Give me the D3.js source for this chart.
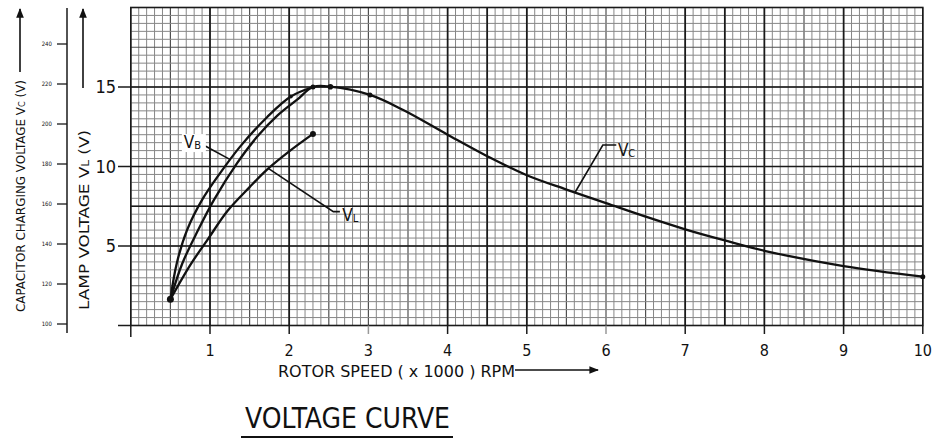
<!DOCTYPE html>
<html><head><meta charset="utf-8">
<script src="https://cdn.jsdelivr.net/npm/d3@7"></script>
<style>
html,body{margin:0;padding:0;background:#fff;}
svg{display:block;}
text{font-family:"Liberation Sans Narrow","DejaVu Sans Condensed","Liberation Sans",sans-serif;fill:#111;}
</style></head>
<body>
<svg id="c" width="939" height="441"></svg>
<script>
// ---- data ----
const rpmTicks = [1,2,3,4,5,6,7,8,9,10];
const lampTicks = [5,10,15];
const capTicks = [100,120,140,160,180,200,220,240];
// heavy graph-paper lines as they appear on the scan
const heavyX = [1,2,4,4.5,5,7,7.5,8,9];
const heavyY = [5,7.5,10,15];
// curves: [rotor speed (x1000 rpm), lamp-scale voltage]
const vbCurve = [[0.5,1.65],[0.58,3.9],[0.71,6.0],[0.9,7.9],[1.13,9.6],[1.38,11.25],[1.72,13.1],[2.02,14.4],[2.3,15.0]];
const vcCurve = [[0.5,1.65],[0.65,3.9],[0.85,6.0],[1.05,7.9],[1.34,10.2],[1.6,11.9],[1.85,13.2],[2.1,14.2],[2.3,15.0],[2.52,15.02],[3.02,14.5],[3.44,13.55],[4.0,12.0],[4.5,10.65],[5.0,9.45],[5.5,8.55],[6.0,7.7],[6.5,6.85],[7.0,6.05],[7.5,5.35],[8.0,4.7],[9.0,3.74],[10.0,3.07]];
const vlCurve = [[0.5,1.65],[0.75,3.8],[0.97,5.4],[1.22,7.2],[1.5,8.7],[1.72,9.8],[2.0,10.95],[2.3,12.05]];
const dots = [[0.5,1.65,3.5],[2.02,14.4,2],[2.3,15.0,2.5],[2.52,15.02,2.8],[3.02,14.5,2.5],[2.3,12.05,3],[10.0,3.07,2.5]];
const labels = [
  {main:"V", sub:"B", x:0.67, y:11.16, leader:[[0.94,11.29],[1.25,10.45]], box:true},
  {main:"V", sub:"L", x:2.67, y:6.57, leader:[[2.64,7.16],[2.557,7.16],[1.736,9.88]], box:false},
  {main:"V", sub:"C", x:6.15, y:10.66, leader:[[6.13,11.35],[5.96,11.35],[5.61,8.38]], box:false}
];

// ---- scales ----
const svg = d3.select("#c");
const x = d3.scaleLinear().domain([0,10]).range([130.8,922.8]);
const y = d3.scaleLinear().domain([0,20]).range([325.5,7.5]);
const yCap = d3.scaleLinear().domain([100,260]).range([324,4]);

// ---- graph paper ----
const g = svg.append("g");
const minorX = d3.range(0,10.0001,0.1), minorY = d3.range(0,20.0001,0.5);
const isMidX = d=>Math.abs(d*2-Math.round(d*2))<1e-6;
const isMidY = d=>Math.abs(d/2.5-Math.round(d/2.5))<1e-6;
g.selectAll(".mx").data(minorX).join("line")
  .attr("x1",d=>x(d)).attr("x2",d=>x(d)).attr("y1",y(0)).attr("y2",y(20))
  .attr("stroke",d=>isMidX(d)?"#505050":"#878787")
  .attr("stroke-width",d=>isMidX(d)?1.2:1);
g.selectAll(".my").data(minorY).join("line")
  .attr("y1",d=>y(d)).attr("y2",d=>y(d)).attr("x1",x(0)).attr("x2",x(10))
  .attr("stroke",d=>isMidY(d)?"#505050":"#878787")
  .attr("stroke-width",d=>isMidY(d)?1.2:1);
g.selectAll(".hx").data(heavyX).join("line")
  .attr("x1",d=>x(d)).attr("x2",d=>x(d)).attr("y1",y(0)).attr("y2",y(20))
  .attr("stroke","#1a1a1a").attr("stroke-width",1.7);
g.selectAll(".hy").data(heavyY).join("line")
  .attr("y1",d=>y(d)).attr("y2",d=>y(d)).attr("x1",x(0)).attr("x2",x(10))
  .attr("stroke","#1a1a1a").attr("stroke-width",1.7);
g.append("rect").attr("x",x(0)).attr("y",y(20)).attr("width",x(10)-x(0)).attr("height",y(0)-y(20))
  .attr("fill","none").attr("stroke","#1a1a1a").attr("stroke-width",1.6);

// ---- x axis ticks ----
const xa = svg.append("g");
xa.selectAll("line").data([0].concat(rpmTicks)).join("line")
  .attr("x1",d=>x(d)).attr("x2",d=>x(d)).attr("y1",y(0)).attr("y2",d=>d===0?337:334)
  .attr("stroke",d=>(d===3||d===6)?"#999":"#1a1a1a").attr("stroke-width",1.5);
xa.selectAll("text").data(rpmTicks).join("text")
  .attr("x",d=>x(d)).attr("y",356).attr("text-anchor","middle")
  .attr("font-size",16).text(d=>d);

// ---- lamp voltage axis ----
const ya = svg.append("g");
ya.selectAll("line").data([0].concat(lampTicks)).join("line")
  .attr("x1",118).attr("x2",x(0)).attr("y1",d=>y(d)).attr("y2",d=>y(d))
  .attr("stroke","#1a1a1a").attr("stroke-width",1.5);
ya.selectAll("text").data(lampTicks).join("text")
  .attr("x",116).attr("y",d=>y(d)+6).attr("text-anchor","end")
  .attr("font-size",18).text(d=>d);

// ---- capacitor voltage axis ----
const ca = svg.append("g");
ca.append("line").attr("x1",67).attr("x2",67).attr("y1",8).attr("y2",333)
  .attr("stroke","#1a1a1a").attr("stroke-width",1.5);
ca.selectAll("line.t").data(capTicks).join("line").attr("class","t")
  .attr("x1",57).attr("x2",67).attr("y1",d=>yCap(d)).attr("y2",d=>yCap(d))
  .attr("stroke","#1a1a1a").attr("stroke-width",1.3);
ca.selectAll("text").data(capTicks).join("text")
  .attr("x",52).attr("y",d=>yCap(d)+2).attr("text-anchor","end")
  .attr("font-size",6).text(d=>d);

// arrows
const defs = svg.append("defs");
defs.append("marker").attr("id","ah").attr("viewBox","0 0 10 10").attr("refX",9).attr("refY",5)
  .attr("markerWidth",6).attr("markerHeight",6).attr("orient","auto")
  .append("path").attr("d","M0,1L10,5L0,9Z").attr("fill","#111");
svg.append("line").attr("x1",20).attr("x2",20).attr("y1",72).attr("y2",9)
  .attr("stroke","#111").attr("stroke-width",1.6).attr("marker-end","url(#ah)");
svg.append("line").attr("x1",83).attr("x2",83).attr("y1",88).attr("y2",9)
  .attr("stroke","#111").attr("stroke-width",1.6).attr("marker-end","url(#ah)");
svg.append("line").attr("x1",515).attr("x2",598).attr("y1",370).attr("y2",370)
  .attr("stroke","#111").attr("stroke-width",1.6).attr("marker-end","url(#ah)");

// axis titles
const capT = svg.append("text").attr("transform","translate(25,196) rotate(-90)")
  .attr("text-anchor","middle").attr("font-size",11.5)
  .attr("textLength",232).attr("lengthAdjust","spacingAndGlyphs");
capT.append("tspan").text("CAPACITOR CHARGING VOLTAGE V");
capT.append("tspan").attr("font-size",8).text("C");
capT.append("tspan").text(" (V)");
const lampT = svg.append("text").attr("transform","translate(89,220) rotate(-90)")
  .attr("text-anchor","middle").attr("font-size",14)
  .attr("textLength",180).attr("lengthAdjust","spacingAndGlyphs");
lampT.append("tspan").text("LAMP VOLTAGE V");
lampT.append("tspan").attr("font-size",10).text("L");
lampT.append("tspan").text(" (V)");
svg.append("text").attr("x",278).attr("y",377).attr("font-size",15.5)
  .attr("textLength",237).attr("lengthAdjust","spacingAndGlyphs")
  .text("ROTOR SPEED ( x 1000 ) RPM");
svg.append("text").attr("x",245).attr("y",428).attr("font-size",29)
  .attr("textLength",205).attr("lengthAdjust","spacingAndGlyphs")
  .text("VOLTAGE CURVE");
svg.append("line").attr("x1",241).attr("x2",453).attr("y1",437).attr("y2",437)
  .attr("stroke","#111").attr("stroke-width",2);

// ---- curves ----
const line = d3.line().x(d=>x(d[0])).y(d=>y(d[1])).curve(d3.curveCatmullRom.alpha(0.5));
[vbCurve,vcCurve,vlCurve].forEach(c=>{
  svg.append("path").attr("d",line(c)).attr("fill","none")
    .attr("stroke","#111").attr("stroke-width",2.3).attr("stroke-linejoin","round");
});
svg.selectAll("circle.dot").data(dots).join("circle").attr("class","dot")
  .attr("cx",d=>x(d[0])).attr("cy",d=>y(d[1])).attr("r",d=>d[2]).attr("fill","#111");

// ---- curve labels ----
const lead = d3.line().x(d=>x(d[0])).y(d=>y(d[1]));
labels.forEach(l=>{
  svg.append("path").attr("d",lead(l.leader)).attr("fill","none")
    .attr("stroke","#111").attr("stroke-width",1.6);
  if(l.box){
    svg.append("rect").attr("x",x(l.x)-2).attr("y",y(l.y)-14).attr("width",24).attr("height",18)
      .attr("fill","#fff");
  }
  const t = svg.append("text").attr("x",x(l.x)).attr("y",y(l.y)).attr("font-size",17);
  t.append("tspan").text(l.main);
  t.append("tspan").attr("font-size",11).attr("dy",1).text(l.sub);
});
</script>
</body></html>
